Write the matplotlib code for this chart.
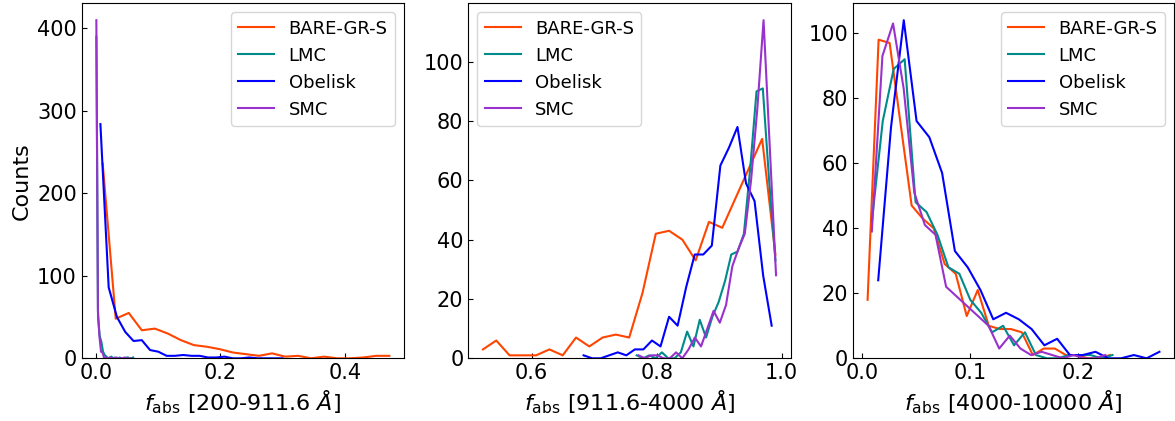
# histogrammes f_abs pour trois domaines de longueur d'onde
import numpy as np
import matplotlib
matplotlib.use("Agg")
import matplotlib.pyplot as plt
from matplotlib.ticker import MultipleLocator

names = ["BARE-GR-S", "LMC", "Obelisk", "SMC"]
colors = ["orangered", "darkcyan", "blue", "darkorchid"]
xlabels = [r"$f_{\rm abs}$ [200-911.6 $\AA$]",
           r"$f_{\rm abs}$ [911.6-4000 $\AA$]",
           r"$f_{\rm abs}$ [4000-10000 $\AA$]"]

# centres des bins: (premier, dernier), 23 bins chacun
# panneau 1 : 200-911.6 A
bins1 = [(0.0112, 0.471), (0.001, 0.060), (0.0075, 0.2996), (0.001, 0.056)]
bare_y1 = [236, 48, 55, 34, 36, 30, 22, 16, 14, 11, 7, 5, 3, 6, 2, 3, 0, 2, 0, 0, 1, 3, 3]
lmc_y1 = [390, 50, 27, 20, 8, 4, 2, 0, 1, 2, 0, 1, 0, 0, 1, 0, 0, 0, 1, 1, 0, 0, 1]
obe_y1 = [284, 86, 50, 32, 21, 22, 10, 8, 3, 3, 4, 3, 3, 1, 1, 2, 0, 0, 1, 0, 0, 0, 0]
smc_y1 = [410, 58, 26, 8, 7, 0, 1, 0, 0, 1, 0, 0, 0, 1, 0, 0, 0, 0, 1, 0, 0, 0, 0]

# panneau 2 : 911.6-4000 A
bins2 = [(0.522, 0.990), (0.768, 0.990), (0.683, 0.984), (0.771, 0.991)]
bare_y2 = [3, 6, 1, 1, 1, 3, 1, 7, 4, 7, 8, 7, 22, 42, 43, 40, 33, 46, 44, 54, 64, 74, 35]
lmc_y2 = [1, 0, 1, 0, 2, 0, 0, 2, 9, 4, 13, 7, 14, 19, 26, 35, 36, 42, 64, 90, 91, 60, 33]
obe_y2 = [1, 0, 0, 1, 2, 1, 3, 3, 6, 4, 14, 11, 24, 35, 35, 38, 65, 71, 78, 59, 53, 28, 11]
smc_y2 = [1, 0, 1, 1, 0, 0, 2, 0, 3, 7, 4, 10, 16, 12, 18, 31, 37, 42, 60, 84, 114, 71, 28]

# panneau 3 : 4000-10000 A
bins3 = [(0.0053, 0.229), (0.0092, 0.2314), (0.0151, 0.2747), (0.0092, 0.2248)]
bare_y3 = [18, 98, 97, 72, 47, 43, 40, 29, 26, 13, 21, 10, 9, 9, 8, 1, 3, 3, 1, 1, 0, 0, 1]
lmc_y3 = [42, 73, 89, 92, 48, 45, 38, 28, 26, 18, 14, 8, 10, 4, 8, 1, 0, 0, 1, 1, 1, 0, 1]
obe_y3 = [24, 71, 104, 73, 68, 57, 33, 28, 21, 12, 14, 12, 9, 4, 6, 1, 1, 2, 0, 0, 1, 0, 2]
smc_y3 = [39, 93, 103, 83, 51, 41, 38, 22, 19, 16, 13, 10, 3, 7, 3, 1, 2, 1, 0, 1, 0, 0, 1]

panels = [
    (bins1, [bare_y1, lmc_y1, obe_y1, smc_y1]),
    (bins2, [bare_y2, lmc_y2, obe_y2, smc_y2]),
    (bins3, [bare_y3, lmc_y3, obe_y3, smc_y3]),
]

W, H = 1175, 421
fig = plt.figure(figsize=(W / 100, H / 100), dpi=100)

# positions des axes en pixels (gauche, droite)
boxes = [(81.7, 404.0), (468.3, 790.7), (853.0, 1174.0)]
top, bottom = 3.3, 358.3
legend_loc = ["upper right", "upper left", "upper right"]
ystep = [100, 20, 20]

for i, ((bins, ys), (l, r)) in enumerate(zip(panels, boxes)):
    ax = fig.add_axes([l / W, (H - bottom) / H, (r - l) / W, (bottom - top) / H])
    for (x0, x1), y, name, c in zip(bins, ys, names, colors):
        x = np.linspace(x0, x1, len(y))
        ax.plot(x, y, color=c, lw=1.5, label=name)
    ax.set_ylim(bottom=0)
    ax.yaxis.set_major_locator(MultipleLocator(ystep[i]))
    ax.tick_params(direction="in", labelsize=15)
    ax.set_xlabel(xlabels[i], fontsize=16)
    if i == 0:
        ax.set_ylabel("Counts", fontsize=16)
    ax.legend(loc=legend_loc[i], fontsize=13)

fig.savefig("out.png", dpi=100)
